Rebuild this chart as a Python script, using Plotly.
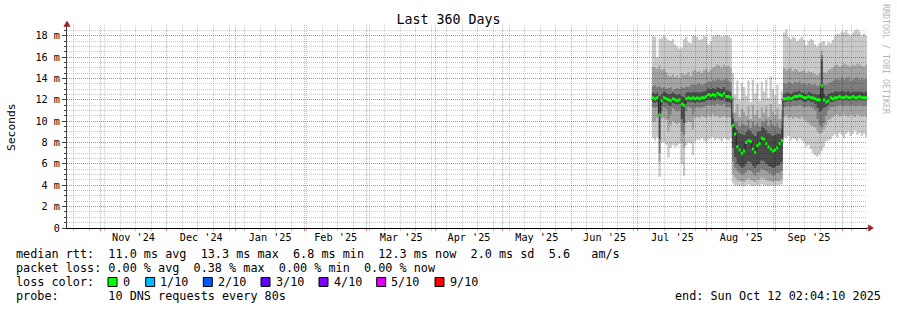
import pandas as pd
import plotly.graph_objects as go

# ---------------- data (milliseconds, one value per day) ----------------
graph_start = "2024-10-17 02:04:10"
graph_end = "2025-10-12 02:04:10"
first_sample = "2025-07-07 06:00"

median_ms = [
    12.2, 12.1, 12.2, 10.6, 11.9, 12.2, 12.1, 12.0, 11.9, 12.1, 12.0, 11.9, 12.0, 11.6, 11.5, 12.1, 12.2, 12.1,
    12.2, 12.1, 12.2, 12.1, 12.2, 12.2, 12.3, 12.5, 12.4, 12.5, 12.4, 12.6, 12.5, 12.4, 12.6, 12.3, 12.3, 12.2,
    9.6, 8.8, 7.6, 7.3, 7.0, 7.2, 8.0, 8.2, 8.1, 7.4, 7.1, 7.7, 7.9, 8.4, 8.3, 7.9, 7.6, 7.4, 7.2, 7.3, 7.5, 7.9, 8.2,
    12.1, 12.1, 12.2, 12.1, 12.2, 12.3, 12.3, 12.4, 12.3, 12.2, 12.2, 12.3, 12.2, 12.2, 12.1, 12.0, 12.0, 13.3, 12.0,
    11.8, 11.9, 12.2, 12.1, 12.2, 12.2, 12.3, 12.2, 12.2, 12.3, 12.2, 12.2, 12.3, 12.2, 12.2, 12.3, 12.2, 12.2, 12.2,
]
ping01_ms = [
    8.4, 8.2, 8.5, 4.8, 8.0, 8.1, 7.8, 6.6, 7.5, 7.8, 7.6, 7.7, 7.9, 6.0, 4.9, 7.7, 8.0, 7.9,
    6.8, 8.1, 8.3, 8.2, 8.4, 8.2, 8.0, 8.3, 8.4, 8.5, 8.2, 8.4, 8.3, 8.1, 8.4, 8.3, 8.2, 8.4,
    4.2, 4.0, 4.0, 3.9, 4.0, 3.9, 4.0, 4.1, 4.0, 3.9, 4.0, 4.0, 3.9, 4.1, 4.0, 4.0, 3.9, 4.0, 4.0, 3.9, 4.0, 4.0, 4.1,
    8.5, 8.4, 8.6, 8.2, 8.4, 8.3, 8.1, 8.4, 8.2, 8.0, 7.6, 7.8, 7.4, 7.0, 6.8, 6.7, 6.9, 7.2, 7.6,
    8.1, 8.2, 8.3, 8.6, 8.8, 8.5, 8.9, 8.7, 8.4, 8.8, 9.0, 8.6, 8.8, 9.1, 8.7, 8.9, 8.6, 8.8, 8.5,
]
ping02_ms = [
    9.9, 10.0, 10.3, 6.2, 10.2, 10.3, 10.1, 9.0, 9.6, 10.0, 9.8, 9.7, 9.9, 8.0, 7.5, 9.8, 10.0, 9.9,
    9.2, 10.3, 10.4, 10.3, 10.5, 10.4, 10.3, 10.5, 10.4, 10.6, 10.4, 10.5, 10.3, 10.4, 10.5, 10.3, 10.4, 10.3,
    5.0, 4.7, 4.5, 4.4, 4.4, 4.3, 4.5, 4.6, 4.5, 4.4, 4.3, 4.5, 4.5, 4.7, 4.6, 4.5, 4.4, 4.4, 4.3, 4.4, 4.4, 4.4, 4.6,
    10.4, 10.5, 10.3, 10.4, 10.2, 10.4, 10.3, 10.2, 10.4, 10.2, 10.0, 9.8, 9.6, 9.5, 9.4, 9.0, 8.8, 8.9, 9.2,
    9.6, 10.1, 10.2, 10.4, 10.5, 10.6, 10.4, 10.5, 10.6, 10.5, 10.4, 10.6, 10.5, 10.4, 10.6, 10.5, 10.4, 10.5, 10.4,
]
ping03_ms = [
    11.3, 11.2, 11.3, 7.0, 10.9, 11.3, 11.1, 10.2, 10.6, 11.2, 11.0, 10.8, 11.0, 9.0, 8.7, 10.9, 11.3, 11.2,
    10.6, 11.2, 11.3, 11.2, 11.3, 11.3, 11.4, 11.5, 11.4, 11.5, 11.4, 11.6, 11.5, 11.4, 11.6, 11.3, 11.3, 11.2,
    6.2, 5.6, 5.3, 5.1, 5.0, 5.0, 5.2, 5.4, 5.3, 5.1, 4.9, 5.2, 5.2, 5.5, 5.4, 5.3, 5.1, 5.0, 4.9, 5.0, 5.1, 5.1, 5.3,
    11.3, 11.3, 11.4, 11.3, 11.4, 11.4, 11.4, 11.5, 11.4, 11.3, 11.3, 11.4, 11.3, 11.2, 11.0, 10.2, 9.6, 9.4, 9.8,
    10.5, 11.0, 11.3, 11.3, 11.4, 11.4, 11.5, 11.4, 11.4, 11.5, 11.4, 11.4, 11.5, 11.4, 11.4, 11.5, 11.4, 11.4, 11.4,
]
ping04_ms = [
    11.8, 11.7, 11.8, 8.3, 11.5, 11.8, 11.7, 11.5, 11.4, 11.7, 11.6, 11.5, 11.6, 10.2, 9.8, 11.6, 11.8, 11.7,
    11.8, 11.7, 11.8, 11.7, 11.8, 11.8, 11.9, 12.0, 11.9, 12.0, 11.9, 12.1, 12.0, 11.9, 12.1, 11.8, 11.8, 11.7,
    7.5, 6.6, 6.0, 5.8, 5.6, 5.7, 6.0, 6.2, 6.1, 5.8, 5.6, 5.9, 6.0, 6.3, 6.2, 6.0, 5.8, 5.7, 5.6, 5.7, 5.8, 5.9, 6.1,
    11.8, 11.8, 11.9, 11.8, 11.9, 11.9, 11.9, 12.0, 11.9, 11.8, 11.8, 11.9, 11.8, 11.8, 11.6, 11.2, 10.8, 11.0, 11.2,
    11.3, 11.5, 11.8, 11.8, 11.9, 11.9, 12.0, 11.9, 11.9, 12.0, 11.9, 11.9, 12.0, 11.9, 11.9, 12.0, 11.9, 11.9, 11.9,
]
ping07_ms = [
    12.7, 12.6, 12.7, 12.4, 12.6, 12.8, 12.7, 12.6, 12.6, 12.7, 12.6, 12.5, 12.6, 12.4, 12.3, 12.7, 12.8, 12.7,
    12.8, 12.7, 12.8, 12.7, 12.8, 12.8, 12.9, 13.1, 13.0, 13.1, 13.0, 13.2, 13.1, 13.0, 13.2, 12.9, 12.9, 12.8,
    10.2, 9.4, 9.2, 8.9, 8.8, 8.7, 9.0, 9.3, 9.1, 8.8, 8.6, 9.0, 9.1, 9.5, 9.4, 9.2, 8.9, 8.8, 8.6, 8.7, 8.9, 8.8, 9.3,
    12.6, 12.7, 12.7, 12.6, 12.7, 12.8, 12.8, 12.9, 12.7, 12.7, 12.6, 12.8, 12.7, 12.6, 12.6, 12.5, 12.6, 15.8, 12.6,
    12.4, 12.6, 12.7, 12.7, 12.8, 12.8, 12.8, 12.9, 12.8, 12.8, 12.9, 12.7, 12.8, 12.8, 12.8, 12.8, 12.8, 12.7, 12.8,
]
ping08_ms = [
    13.3, 13.4, 13.2, 13.3, 13.1, 13.2, 13.0, 13.1, 13.2, 12.9, 13.0, 13.1, 13.0, 13.2, 13.1, 13.3, 13.2, 13.4,
    13.5, 13.4, 13.5, 13.6, 13.4, 13.5, 13.6, 13.8, 13.7, 13.9, 13.8, 14.0, 13.9, 13.8, 13.9, 14.0, 13.8, 13.7,
    10.8, 9.9, 10.0, 9.5, 9.8, 9.7, 9.6, 10.1, 9.4, 10.0, 9.6, 9.8, 9.5, 10.0, 9.9, 10.2, 9.6, 10.1, 9.7, 9.5, 9.9, 9.4, 10.0,
    13.6, 13.5, 13.7, 13.6, 13.5, 13.7, 13.6, 13.8, 13.5, 13.6, 13.4, 13.6, 13.5, 13.4, 13.5, 13.3, 13.4, 16.2, 13.5,
    13.4, 13.6, 13.7, 13.8, 13.9, 14.0, 13.9, 14.1, 13.9, 14.0, 14.1, 13.8, 13.9, 14.0, 14.1, 13.9, 14.0, 13.9, 14.0,
]
ping09_ms = [
    15.1, 15.0, 14.9, 15.2, 14.8, 14.9, 14.6, 14.3, 14.2, 14.4, 14.1, 14.3, 14.0, 14.5, 14.3, 14.4, 14.6, 14.2,
    14.7, 14.8, 14.6, 14.7, 14.5, 14.8, 14.9, 14.6, 14.8, 15.0, 15.1, 15.3, 15.2, 15.0, 15.3, 15.1, 15.2, 15.0,
    12.3, 10.8, 11.6, 10.4, 11.2, 10.9, 10.5, 11.4, 10.2, 11.5, 10.6, 11.0, 10.3, 11.3, 10.8, 11.4, 10.4, 11.6, 10.9, 10.6, 11.2, 10.2, 11.0,
    15.0, 14.8, 14.9, 15.0, 14.7, 14.9, 14.8, 14.6, 14.7, 14.8, 14.5, 14.7, 14.6, 14.5, 14.4, 14.3, 14.5, 16.6, 14.6,
    14.5, 14.8, 14.9, 15.0, 15.2, 15.3, 15.1, 15.2, 15.4, 15.3, 15.2, 15.1, 15.3, 15.2, 15.4, 15.3, 15.2, 15.1, 15.3,
]
ping10_ms = [
    18.0, 17.9, 16.0, 17.7, 17.8, 18.0, 17.8, 17.6, 17.5, 17.7, 17.2, 17.0, 16.8, 16.9, 17.7, 17.9, 17.4, 17.3,
    18.0, 18.0, 17.9, 17.6, 17.7, 18.0, 17.9, 17.2, 17.5, 18.0, 18.0, 18.1, 18.0, 17.9, 18.0, 18.0, 18.0, 17.8,
    14.5, 12.5, 13.8, 12.0, 13.6, 13.2, 12.4, 13.8, 11.8, 13.9, 12.6, 13.5, 11.9, 13.7, 12.8, 13.9, 12.2, 14.2, 13.0, 12.4, 13.4, 11.6, 12.8,
    18.3, 18.6, 17.9, 17.7, 17.9, 17.8, 17.5, 17.7, 17.9, 17.6, 17.1, 17.5, 17.7, 17.6, 17.2, 17.0, 17.3, 17.4, 17.5,
    17.1, 17.4, 17.3, 17.6, 18.0, 18.2, 18.1, 18.4, 18.3, 18.5, 18.2, 18.0, 18.3, 18.5, 18.6, 18.4, 18.0, 18.2, 18.0,
]
loss_tenths = [
    0, 0, 0, 0, 0, 0, 0, 0, 0, 0, 0, 0, 0, 0, 0, 0, 0, 0, 0, 0, 0, 0, 0, 0, 0, 0, 0, 0, 0, 0, 0, 0, 0, 0, 0, 0,
    0, 0, 0, 0, 0, 0, 0, 0, 0, 0, 0, 0, 0, 0, 0, 0, 0, 0, 0, 0, 0, 0, 0,
    0, 0, 0, 0, 1, 0, 0, 0, 0, 0, 0, 0, 0, 0, 0, 0, 0, 0, 0,
    0, 0, 0, 0, 0, 0, 0, 0, 0, 0, 0, 0, 0, 0, 0, 0, 0, 0, 0,
]

y_tick_values = [0, 2, 4, 6, 8, 10, 12, 14, 16, 18]
y_tick_labels = ["0", "2 m", "4 m", "6 m", "8 m", "10 m", "12 m", "14 m", "16 m", "18 m"]

loss_levels = [0, 1, 2, 3, 4, 5, 9]
loss_labels = ["0", "1/10", "2/10", "3/10", "4/10", "5/10", "9/10"]
loss_colors = ["#00ff00", "#00b8ff", "#0059ff", "#5e00ff", "#7e00ff", "#dd00ff", "#ff0000"]

title_text = "Last 360 Days"
unit_label = "Seconds"
row_rtt = "median rtt:  11.0 ms avg  13.3 ms max  6.8 ms min  12.3 ms now  2.0 ms sd  5.6   am/s"
row_loss = "packet loss: 0.00 % avg  0.38 % max  0.00 % min  0.00 % now"
row_color = "loss color:"
row_probe = "probe:       10 DNS requests every 80s"
row_end = "end: Sun Oct 12 02:04:10 2025"
watermark = "RRDTOOL / TOBI OETIKER"

# ---------------- geometry / style ----------------
W, H = 897, 310
ML, MR, MT, MB = 67, 30, 25, 82
PW, PH = W - ML - MR, H - MT - MB
MONO = "DejaVu Sans Mono"
LEG = 11.8


def px_x(px):
    return (px - ML) / PW


def px_y(py):
    return (MT + PH - py) / PH


def nb(s):
    return s.replace(" ", "\u00a0")


dates = list(pd.date_range(first_sample, periods=len(median_ms), freq="D"))
x_ext = dates + [pd.Timestamp(graph_end)]


def ext(vals):
    return list(vals) + [vals[-1]]


fig = go.Figure()

# smoke: non-overlapping slices between sorted pings
bounds = [ping01_ms, ping02_ms, ping03_ms, ping04_ms, ping07_ms, ping08_ms, ping09_ms, ping10_ms]
shade = {1: "rgba(0,0,0,0.21)", 2: "rgba(0,0,0,0.36)", 3: "rgba(0,0,0,0.51)", 4: "rgba(0,0,0,0.70)"}
slice_shade = [None, shade[1], shade[2], shade[3], shade[4], shade[3], shade[2], shade[1]]
for vals, fc in zip(bounds, slice_shade):
    fig.add_trace(go.Scatter(
        x=x_ext, y=ext(vals), mode="lines", line=dict(width=0, shape="hv"),
        fill="tonexty" if fc else None, fillcolor=fc, hoverinfo="skip", showlegend=False))

# median line
fig.add_trace(go.Scatter(x=x_ext, y=ext(median_ms), mode="lines",
                         line=dict(color="#202020", width=1, shape="hv"),
                         hoverinfo="skip", showlegend=False))

# loss coloured median band
sw = 0.14
med_lo = [m - sw for m in median_ms]
med_hi = [m + sw for m in median_ms]
fig.add_trace(go.Scatter(x=x_ext, y=ext(med_lo), mode="lines", line=dict(width=0, shape="hv"),
                         hoverinfo="skip", showlegend=False))
fig.add_trace(go.Scatter(x=x_ext, y=ext(med_hi), mode="lines", line=dict(width=0, shape="hv"),
                         fill="tonexty", fillcolor=loss_colors[0], hoverinfo="skip", showlegend=False))


def loss_color(v):
    c = loss_colors[0]
    for lv, col in zip(loss_levels, loss_colors):
        if v >= lv:
            c = col
    return c


lx = [d for d, l in zip(dates, loss_tenths) if l > 0]
lb = [m - sw for m, l in zip(median_ms, loss_tenths) if l > 0]
lc = [loss_color(l) for l in loss_tenths if l > 0]
if lx:
    fig.add_trace(go.Bar(x=lx, y=[2 * sw] * len(lx), base=lb, width=86400000, offset=0,
                         marker=dict(color=lc, line=dict(width=0)), hoverinfo="skip", showlegend=False))

major_grid = "rgba(235,0,0,0.38)"
minor_grid = "rgba(120,120,120,0.40)"

fig.update_layout(
    width=W, height=H, autosize=False,
    margin=dict(l=ML, r=MR, t=MT, b=MB, pad=0),
    paper_bgcolor="white", plot_bgcolor="white",
    showlegend=False, bargap=0,
    font=dict(family=MONO, color="black"),
    title=dict(text=title_text, x=0.5, xref="container", xanchor="center",
               y=1 - 19 / H, yref="container", yanchor="middle",
               font=dict(family=MONO, size=13.3, color="black")),
    xaxis=dict(
        type="date", range=[graph_start, graph_end], fixedrange=True,
        dtick="M1", tick0="2024-11-01", tickformat="%b '%y", ticklabelmode="period",
        ticklabelstandoff=-2,
        showgrid=True, gridcolor=major_grid, griddash="1px,1px", gridwidth=1,
        ticks="outside", ticklen=2, tickcolor="rgba(235,0,0,0.6)",
        tickfont=dict(family=MONO, size=10.2, color="black"),
        showline=True, linecolor="#000000", linewidth=1, zeroline=False,
        minor=dict(dtick=7 * 86400000, tick0="2024-10-20", showgrid=True, gridcolor=minor_grid,
                   griddash="1px,1px", ticks="outside", ticklen=2, tickcolor="rgba(120,120,120,0.5)"),
    ),
    yaxis=dict(
        range=[0, 19], fixedrange=True,
        tickmode="array", tickvals=y_tick_values, ticktext=y_tick_labels,
        showgrid=True, gridcolor=major_grid, griddash="1px,1px", gridwidth=1,
        ticks="outside", ticklen=4, tickcolor="#404040",
        tickfont=dict(family=MONO, size=10.2, color="black"),
        showline=True, linecolor="#404040", linewidth=1, zeroline=False,
        minor=dict(tickmode="linear", tick0=0, dtick=0.5, showgrid=True, gridcolor=minor_grid,
                   griddash="1px,1px", ticks="outside", ticklen=2, tickcolor="#404040"),
    ),
)

ann = []


def text_at(px, py, s, size=LEG, anchor="left", color="black", angle=0):
    ann.append(dict(x=px_x(px), y=px_y(py), xref="paper", yref="paper", text=nb(s),
                    showarrow=False, xanchor=anchor, yanchor="middle", textangle=angle,
                    borderpad=0, borderwidth=0,
                    font=dict(family=MONO, size=size, color=color)))


text_at(11, 127, unit_label, size=11.3, anchor="center", angle=-90)
text_at(15.5, 254.3, row_rtt)
text_at(15.5, 268.3, row_loss)
text_at(15.5, 282.3, row_color)
text_at(15.5, 296.2, row_probe)
text_at(880.5, 296.2, row_end, anchor="right")
text_at(886, 59, watermark, size=8.3, anchor="center", color="#b4b4b4", angle=90)

shapes = []
sq_left = [108, 145.7, 203.3, 261, 319, 376.7, 435]
for xl, col, lab in zip(sq_left, loss_colors, loss_labels):
    shapes.append(dict(type="rect", xref="paper", yref="paper",
                       x0=px_x(xl), x1=px_x(xl + 9), y0=px_y(286.5), y1=px_y(277.5),
                       fillcolor=col, line=dict(color="black", width=1)))
    text_at(xl + 14.5, 282.3, lab)

arrow = "#a02020"
shapes.append(dict(type="path", xref="paper", yref="paper",
                   path=f"M {px_x(67)},{px_y(21)} L {px_x(63.8)},{px_y(26.5)} L {px_x(70.2)},{px_y(26.5)} Z",
                   fillcolor=arrow, line=dict(color=arrow, width=0.5)))
shapes.append(dict(type="line", xref="paper", yref="paper",
                   x0=px_x(867), x1=px_x(870), y0=px_y(228), y1=px_y(228),
                   line=dict(color="#000000", width=1)))
shapes.append(dict(type="path", xref="paper", yref="paper",
                   path=f"M {px_x(873.5)},{px_y(228)} L {px_x(868.5)},{px_y(224.8)} L {px_x(868.5)},{px_y(231.2)} Z",
                   fillcolor=arrow, line=dict(color=arrow, width=0.5)))

fig.update_layout(annotations=ann, shapes=shapes)
fig.write_html("out.html")
